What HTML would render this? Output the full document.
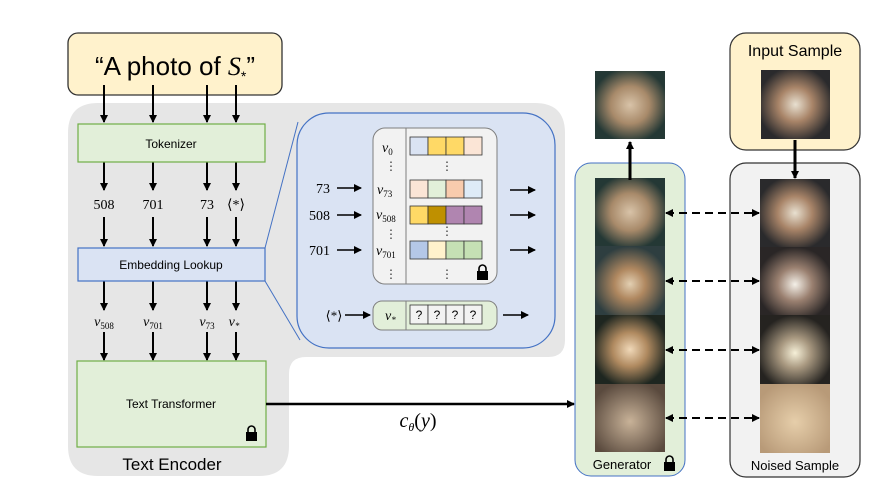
<!DOCTYPE html>
<html><head><meta charset="utf-8"><style>
body{margin:0;background:#fff;}
svg text{font-family:"Liberation Sans",sans-serif;}
.m{font-family:"Liberation Serif",serif;font-style:italic;}
.s{font-family:"Liberation Serif",serif;}
</style></head><body>
<svg width="891" height="492" viewBox="0 0 891 492" xmlns="http://www.w3.org/2000/svg">
<defs>
<marker id="a" markerWidth="8" markerHeight="8" refX="7" refY="4" orient="auto" markerUnits="userSpaceOnUse"><path d="M0,0 L8,4 L0,8z" fill="#000"/></marker>
<marker id="b" markerWidth="8" markerHeight="8" refX="1" refY="4" orient="auto" markerUnits="userSpaceOnUse"><path d="M8,0 L0,4 L8,8z" fill="#000"/></marker>
<radialGradient id="g1" cx="50%" cy="50%" r="55%"><stop offset="0" stop-color="#d8c3a8"/><stop offset=".5" stop-color="#a88a6a"/><stop offset="1" stop-color="#243835"/></radialGradient>
<radialGradient id="g2" cx="50%" cy="55%" r="55%"><stop offset="0" stop-color="#e2cfb2"/><stop offset=".4" stop-color="#b08860"/><stop offset="1" stop-color="#2e3e40"/></radialGradient>
<radialGradient id="g3" cx="50%" cy="50%" r="55%"><stop offset="0" stop-color="#f0d8b8"/><stop offset=".45" stop-color="#b08a60"/><stop offset="1" stop-color="#1e2620"/></radialGradient>
<radialGradient id="g4" cx="50%" cy="55%" r="60%"><stop offset="0" stop-color="#c8b298"/><stop offset="1" stop-color="#5a4a3e"/></radialGradient>
<radialGradient id="n1" cx="50%" cy="50%" r="55%"><stop offset="0" stop-color="#e8e0d0"/><stop offset=".45" stop-color="#a88468"/><stop offset="1" stop-color="#2a2a2c"/></radialGradient>
<radialGradient id="n2" cx="50%" cy="55%" r="55%"><stop offset="0" stop-color="#f4f0e8"/><stop offset=".45" stop-color="#9a8070"/><stop offset="1" stop-color="#2a2626"/></radialGradient>
<radialGradient id="n3" cx="50%" cy="55%" r="55%"><stop offset="0" stop-color="#f6f0d8"/><stop offset=".4" stop-color="#a89880"/><stop offset="1" stop-color="#252320"/></radialGradient>
<radialGradient id="n4" cx="50%" cy="55%" r="60%"><stop offset="0" stop-color="#e6ceaa"/><stop offset="1" stop-color="#b89a78"/></radialGradient>
</defs>

<!-- gray text encoder region -->
<path d="M98,103 H535 Q565,103 565,133 V340 Q565,357 548,357 H306 Q289,357 289,374 V446 Q289,476 259,476 H98 Q68,476 68,446 V133 Q68,103 98,103z" fill="#e6e6e6"/>
<text x="172" y="470" font-size="17" text-anchor="middle">Text Encoder</text>

<!-- quote box -->
<rect x="68" y="33" width="214" height="62" rx="10" fill="#fff2cc" stroke="#333" stroke-width="1.3"/>
<text x="175" y="75" font-size="26" text-anchor="middle">“A photo of <tspan class="m">S</tspan><tspan font-size="14" dy="6">*</tspan><tspan dy="-6">”</tspan></text>

<g stroke="#000" stroke-width="2" marker-end="url(#a)">
<line x1="104" y1="85" x2="104" y2="122"/><line x1="153" y1="85" x2="153" y2="122"/><line x1="207" y1="85" x2="207" y2="122"/><line x1="236" y1="85" x2="236" y2="122"/>
<line x1="104" y1="162" x2="104" y2="190"/><line x1="153" y1="162" x2="153" y2="190"/><line x1="207" y1="162" x2="207" y2="190"/><line x1="236" y1="162" x2="236" y2="190"/>
<line x1="104" y1="217" x2="104" y2="246"/><line x1="153" y1="217" x2="153" y2="246"/><line x1="207" y1="217" x2="207" y2="246"/><line x1="236" y1="217" x2="236" y2="246"/>
<line x1="104" y1="281" x2="104" y2="310"/><line x1="153" y1="281" x2="153" y2="310"/><line x1="207" y1="281" x2="207" y2="310"/><line x1="236" y1="281" x2="236" y2="310"/>
<line x1="104" y1="332" x2="104" y2="360"/><line x1="153" y1="332" x2="153" y2="360"/><line x1="207" y1="332" x2="207" y2="360"/><line x1="236" y1="332" x2="236" y2="360"/>
</g>

<rect x="78" y="124" width="187" height="38" fill="#e2efd9" stroke="#70ad47" stroke-width="1.2"/>
<text x="171" y="148" font-size="12" text-anchor="middle">Tokenizer</text>
<g class="s" font-size="14" text-anchor="middle"><text x="104" y="209" class="s">508</text><text x="153" y="209" class="s">701</text><text x="207" y="209" class="s">73</text><text x="236" y="209" class="s">⟨*⟩</text></g>

<rect x="78" y="248" width="187" height="33" fill="#dae3f3" stroke="#4472c4" stroke-width="1.2"/>
<text x="171" y="269" font-size="12" text-anchor="middle">Embedding Lookup</text>

<g font-size="14" text-anchor="middle">
<text x="104" y="326" class="m">v<tspan font-size="9" dy="3" font-style="normal">508</tspan></text>
<text x="153" y="326" class="m">v<tspan font-size="9" dy="3" font-style="normal">701</tspan></text>
<text x="207" y="326" class="m">v<tspan font-size="9" dy="3" font-style="normal">73</tspan></text>
<text x="234" y="326" class="m">v<tspan font-size="9" dy="3">*</tspan></text>
</g>

<rect x="77" y="361" width="189" height="86" fill="#e2efd9" stroke="#70ad47" stroke-width="1.2"/>
<text x="171" y="408" font-size="12" text-anchor="middle">Text Transformer</text>
<g transform="translate(246,427)"><rect x="0" y="5" width="11" height="9" fill="#000"/><path d="M2,5 V2.5 A3.5,3.5 0 0 1 9,2.5 V5" fill="none" stroke="#000" stroke-width="1.6"/></g>

<line x1="266" y1="404" x2="574" y2="404" stroke="#000" stroke-width="2.5" marker-end="url(#a)"/>
<text x="418" y="427" font-size="20" text-anchor="middle" class="m">c<tspan font-size="12" dy="4">θ</tspan><tspan dy="-4" font-style="normal">(</tspan>y<tspan font-style="normal">)</tspan></text>

<!-- blue panel -->
<line x1="265" y1="248" x2="298" y2="122" stroke="#4472c4" stroke-width="1"/>
<line x1="265" y1="281" x2="300" y2="340" stroke="#4472c4" stroke-width="1"/>
<rect x="297" y="113" width="258" height="235" rx="32" fill="#dae3f3" stroke="#4472c4" stroke-width="1.2"/>
<rect x="373" y="128" width="124" height="156" rx="12" fill="#f2f2f2" stroke="#7f7f7f" stroke-width="1"/>
<line x1="406" y1="128" x2="406" y2="284" stroke="#7f7f7f"/>
<g stroke="#333" stroke-width="0.8">
<rect x="410" y="137" width="18" height="18" fill="#dae3f3"/><rect x="428" y="137" width="18" height="18" fill="#ffd966"/><rect x="446" y="137" width="18" height="18" fill="#ffd966"/><rect x="464" y="137" width="18" height="18" fill="#fbe5d6"/>
<rect x="410" y="180" width="18" height="18" fill="#fbe5d6"/><rect x="428" y="180" width="18" height="18" fill="#e2f0d9"/><rect x="446" y="180" width="18" height="18" fill="#f8cbad"/><rect x="464" y="180" width="18" height="18" fill="#deebf7"/>
<rect x="410" y="206" width="18" height="18" fill="#ffd966"/><rect x="428" y="206" width="18" height="18" fill="#bf9000"/><rect x="446" y="206" width="18" height="18" fill="#b085b0"/><rect x="464" y="206" width="18" height="18" fill="#b085b0"/>
<rect x="410" y="241" width="18" height="18" fill="#b4c7e7"/><rect x="428" y="241" width="18" height="18" fill="#fff2cc"/><rect x="446" y="241" width="18" height="18" fill="#c5e0b4"/><rect x="464" y="241" width="18" height="18" fill="#c5e0b4"/>
</g>
<g font-size="14" class="m">
<text x="382" y="152" class="m">v<tspan font-size="9" dy="3" font-style="normal">0</tspan></text>
<text x="377" y="194" class="m">v<tspan font-size="9" dy="3" font-style="normal">73</tspan></text>
<text x="376" y="219" class="m">v<tspan font-size="9" dy="3" font-style="normal">508</tspan></text>
<text x="376" y="255" class="m">v<tspan font-size="9" dy="3" font-style="normal">701</tspan></text>
</g>
<g font-size="12" text-anchor="middle" fill="#333">
<text x="391" y="170">⋮</text><text x="447" y="170">⋮</text><text x="391" y="238">⋮</text><text x="447" y="235">⋮</text><text x="391" y="278">⋮</text><text x="447" y="278">⋮</text>
</g>
<g transform="translate(477,266)"><rect x="0" y="5" width="11" height="9" fill="#000"/><path d="M2,5 V2.5 A3.5,3.5 0 0 1 9,2.5 V5" fill="none" stroke="#000" stroke-width="1.6"/></g>
<g class="s" font-size="14" text-anchor="end"><text x="330" y="193" class="s">73</text><text x="330" y="220" class="s">508</text><text x="330" y="255" class="s">701</text></g>
<g stroke="#000" stroke-width="1.5" marker-end="url(#a)">
<line x1="337" y1="188" x2="361" y2="188"/><line x1="337" y1="215" x2="361" y2="215"/><line x1="337" y1="250" x2="361" y2="250"/>
<line x1="510" y1="190" x2="535" y2="190"/><line x1="510" y1="215" x2="535" y2="215"/><line x1="510" y1="250" x2="535" y2="250"/>
<line x1="345" y1="315" x2="370" y2="315"/><line x1="503" y1="315" x2="528" y2="315"/>
</g>
<text x="334" y="320" font-size="13" text-anchor="middle" class="s">⟨*⟩</text>
<rect x="373" y="301" width="124" height="29" rx="9" fill="#e2efd9" stroke="#7f7f7f"/>
<line x1="406" y1="301" x2="406" y2="330" stroke="#7f7f7f"/>
<text x="385" y="320" font-size="14" class="m">v<tspan font-size="9" dy="3">*</tspan></text>
<g stroke="#333" stroke-width="0.8" fill="#f2f2f2"><rect x="410" y="305" width="18" height="19"/><rect x="428" y="305" width="18" height="19"/><rect x="446" y="305" width="18" height="19"/><rect x="464" y="305" width="18" height="19"/></g>
<g font-size="12" text-anchor="middle"><text x="419" y="319">?</text><text x="437" y="319">?</text><text x="455" y="319">?</text><text x="473" y="319">?</text></g>

<!-- generator -->
<rect x="575" y="163" width="110" height="313" rx="16" fill="#e2efd9" stroke="#4472c4" stroke-width="1"/>
<rect x="595" y="71" width="70" height="68" fill="url(#g1)"/>
<rect x="595" y="178" width="70" height="68" fill="url(#g1)"/>
<rect x="595" y="246" width="70" height="69" fill="url(#g2)"/>
<rect x="595" y="315" width="70" height="69" fill="url(#g3)"/>
<rect x="595" y="384" width="70" height="68" fill="url(#g4)"/>
<line x1="630" y1="180" x2="630" y2="142" stroke="#000" stroke-width="3" marker-end="url(#a)"/>
<text x="622" y="469" font-size="13" text-anchor="middle">Generator</text>
<g transform="translate(664,457)"><rect x="0" y="5" width="11" height="9" fill="#000"/><path d="M2,5 V2.5 A3.5,3.5 0 0 1 9,2.5 V5" fill="none" stroke="#000" stroke-width="1.6"/></g>

<!-- input / noised -->
<rect x="730" y="33" width="130" height="117" rx="16" fill="#fff2cc" stroke="#333" stroke-width="1.2"/>
<text x="795" y="56" font-size="16" text-anchor="middle">Input Sample</text>
<rect x="761" y="70" width="69" height="69" fill="url(#n1)"/>
<rect x="730" y="163" width="130" height="314" rx="16" fill="#f2f2f2" stroke="#333" stroke-width="1.2"/>
<line x1="795" y1="140" x2="795" y2="178" stroke="#000" stroke-width="3" marker-end="url(#a)"/>
<rect x="760" y="179" width="70" height="68" fill="url(#n1)"/>
<rect x="760" y="247" width="70" height="68" fill="url(#n2)"/>
<rect x="760" y="315" width="70" height="69" fill="url(#n3)"/>
<rect x="760" y="384" width="70" height="69" fill="url(#n4)"/>
<text x="795" y="470" font-size="13" text-anchor="middle">Noised Sample</text>

<g stroke="#000" stroke-width="2" stroke-dasharray="8,5" marker-start="url(#b)" marker-end="url(#a)">
<line x1="666" y1="213" x2="759" y2="213"/><line x1="666" y1="281" x2="759" y2="281"/><line x1="666" y1="350" x2="759" y2="350"/><line x1="666" y1="418" x2="759" y2="418"/>
</g>
</svg>
</body></html>
